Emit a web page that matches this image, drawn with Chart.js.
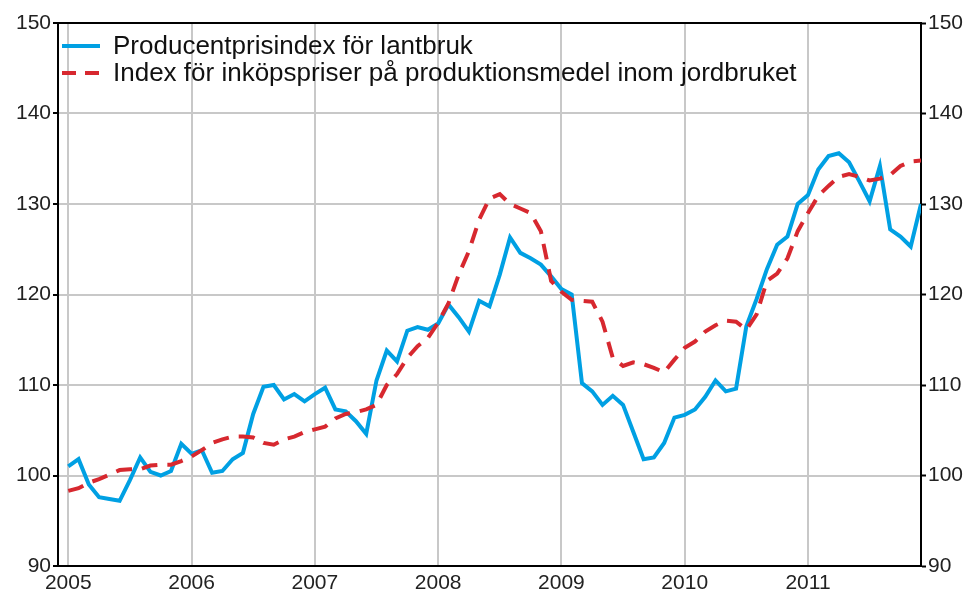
<!DOCTYPE html>
<html>
<head>
<meta charset="utf-8">
<script src="https://cdn.jsdelivr.net/npm/chart.js@4.4.0/dist/chart.umd.min.js"></script>
<style>
  html, body { margin: 0; padding: 0; background: #fff; }
  #wrap { position: relative; width: 972px; height: 597px; }
  #legend {
    position: absolute; left: 62px; top: 32px;
    font-family: "Liberation Sans", Arial, sans-serif; font-size: 26px; color: #111;
  }
  .row { height: 27px; display: flex; align-items: center; white-space: nowrap; }
  .swatch { width: 38px; height: 4px; margin-right: 13px; display: flex; gap: 9px; }
  .swatch span { display: block; height: 4px; }
</style>
</head>
<body>
<div id="wrap">
  <canvas id="grafica" width="972" height="597"></canvas>
  <div id="legend"></div>
</div>
<script>
// monthly values, Jan 2005 - Dec 2011
const years = ['2005', '2006', '2007', '2008', '2009', '2010', '2011'];

const seriesNames = [
  'Producentprisindex för lantbruk',
  'Index för inköpspriser på produktionsmedel inom jordbruket'
];

const producentpris = [
  101.0, 101.8, 99.0, 97.6, 97.4, 97.2, 99.5, 102.0, 100.4, 100.0, 100.5, 103.5,
  102.4, 102.8, 100.3, 100.5, 101.8, 102.5, 106.8, 109.8, 110.0, 108.4, 109.0, 108.2,
  109.0, 109.7, 107.3, 107.1, 106.0, 104.6, 110.5, 113.8, 112.6, 116.0, 116.4, 116.1,
  116.8, 118.9, 117.5, 115.9, 119.3, 118.7, 122.2, 126.3, 124.6, 124.0, 123.3, 122.0,
  120.6, 120.0, 110.2, 109.3, 107.8, 108.8, 107.8, 104.8, 101.8, 102.0, 103.6, 106.4,
  106.7, 107.3, 108.7, 110.5, 109.3, 109.6, 116.5, 119.5, 122.8, 125.5, 126.4, 130.0,
  131.0, 133.8, 135.3, 135.6, 134.6, 132.5, 130.3, 134.2, 127.2, 126.4, 125.3, 130.0
];

const inkopspris = [
  98.3, 98.6, 99.2, 99.6, 100.1, 100.6, 100.7, 100.7, 101.1, 101.2, 101.2, 101.6,
  102.1, 102.8, 103.6, 104.0, 104.3, 104.3, 104.2, 103.6, 103.4, 104.0, 104.3, 104.8,
  105.1, 105.4, 106.3, 106.8, 107.0, 107.3, 107.8, 110.0, 111.2, 113.0, 114.3, 115.2,
  116.9, 119.0, 122.2, 124.8, 128.3, 130.6, 131.1, 130.0, 129.5, 129.0, 127.0, 121.5,
  120.3, 119.4, 119.3, 119.2, 117.0, 113.0, 112.1, 112.5, 112.3, 111.9, 111.4, 112.8,
  114.1, 114.8, 115.9, 116.6, 117.1, 117.0, 116.1, 117.8, 121.5, 122.3, 124.0, 127.0,
  129.0, 130.9, 132.0, 133.0, 133.3, 133.0, 132.6, 132.8, 133.2, 134.2, 134.7, 134.8
];

const blue = '#00a0e3';
const red = '#d7282f';
const gridColor = '#c8c8c8';
const font = { family: '"Liberation Sans", Arial, sans-serif', size: 21 };

const toPoints = arr => arr.map((v, i) => ({ x: i, y: v }));

// legend (html, inside the plot)
const legend = document.getElementById('legend');
legend.innerHTML = `
  <div class="row"><div class="swatch"><span style="width:38px;background:${blue}"></span></div>${seriesNames[0]}</div>
  <div class="row"><div class="swatch"><span style="width:14px;background:${red}"></span><span style="width:14px;background:${red}"></span></div>${seriesNames[1]}</div>
`;

// black frame on top of the plot
const topBorder = {
  id: 'topBorder',
  afterDraw(chart) {
    const { ctx, chartArea } = chart;
    ctx.save();
    ctx.strokeStyle = '#000';
    ctx.lineWidth = 2;
    ctx.beginPath();
    ctx.moveTo(chartArea.left - 1, chartArea.top);
    ctx.lineTo(chartArea.right + 1, chartArea.top);
    ctx.stroke();
    ctx.restore();
  }
};

new Chart(document.getElementById('grafica'), {
  type: 'line',
  data: {
    datasets: [
      {
        label: seriesNames[1],
        data: toPoints(inkopspris),
        borderColor: red,
        borderWidth: 4,
        borderDash: [16, 10],
        pointRadius: 0,
        tension: 0
      },
      {
        label: seriesNames[0],
        data: toPoints(producentpris),
        borderColor: blue,
        borderWidth: 4,
        pointRadius: 0,
        tension: 0
      }
    ]
  },
  options: {
    responsive: false,
    animation: false,
    layout: { padding: { top: 23, left: 0, right: 0, bottom: 0 } },
    plugins: { legend: { display: false }, tooltip: { enabled: false } },
    scales: {
      x: {
        type: 'linear',
        min: -1,
        max: 83,
        afterBuildTicks: scale => { scale.ticks = years.map((y, k) => ({ value: k * 12 })); },
        afterFit: scale => { scale.height = 31; },
        ticks: {
          callback: v => years[v / 12],
          font: font, color: '#222', padding: 5, maxRotation: 0, autoSkip: false
        },
        grid: { color: gridColor, lineWidth: 2, drawTicks: false },
        border: { color: '#000', width: 2 }
      },
      y: {
        position: 'left',
        min: 90, max: 150,
        afterFit: scale => { scale.width = 58; },
        ticks: { stepSize: 10, font: font, color: '#222', padding: 2 },
        grid: { color: gridColor, lineWidth: 2, tickColor: '#000', tickLength: 5, tickWidth: 2 },
        border: { color: '#000', width: 2 }
      },
      y2: {
        position: 'right',
        min: 90, max: 150,
        afterFit: scale => { scale.width = 51; },
        ticks: { stepSize: 10, font: font, color: '#222', padding: 2 },
        grid: { drawOnChartArea: false, tickColor: '#000', tickLength: 5, tickWidth: 2 },
        border: { color: '#000', width: 2 }
      }
    }
  },
  plugins: [topBorder]
});
</script>
</body>
</html>
